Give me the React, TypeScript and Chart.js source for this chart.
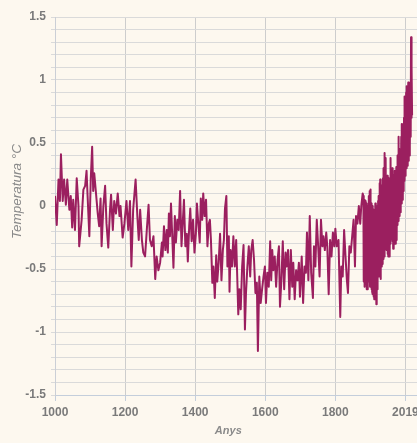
import React, { useEffect, useRef } from "react";
import { Chart, registerables } from "chart.js";

Chart.register(...registerables);

// Reconstructed annual anomalies (year, °C)
const reconYears = [
  1000, 1005, 1010, 1014, 1017, 1022, 1026, 1031, 1035, 1041, 1045, 1049, 1052, 1057, 1062, 1067, 1069, 1076, 1081, 1086,
  1090, 1093, 1098, 1102, 1106, 1109, 1112, 1117, 1122, 1126, 1130, 1133, 1138, 1143, 1147, 1152, 1157, 1160, 1165, 1169,
  1174, 1179, 1184, 1187, 1193, 1198, 1204, 1209, 1214, 1218, 1223, 1230, 1235, 1239, 1243, 1248, 1252, 1257, 1262, 1267,
  1271, 1276, 1281, 1286, 1290, 1295,
  1300, 1305, 1307, 1311, 1315, 1319, 1322, 1325, 1328, 1331, 1335, 1338, 1342, 1345, 1349, 1353, 1357, 1361, 1364, 1368,
  1372, 1376, 1379, 1383, 1386, 1390, 1394, 1398, 1402, 1405, 1409, 1413, 1416, 1420, 1423, 1427, 1431, 1435, 1439, 1442,
  1445, 1449, 1452, 1456, 1460, 1463, 1467, 1471, 1475, 1479, 1482, 1485, 1489, 1492, 1496, 1498, 1501, 1505, 1509, 1513,
  1517, 1520, 1523, 1526, 1530, 1534, 1538, 1542, 1545, 1549, 1553, 1557, 1560, 1564, 1568, 1572, 1576, 1579, 1583, 1587,
  1591, 1595, 1599, 1602, 1606, 1610,
  1614, 1617, 1620, 1623, 1627, 1631, 1635, 1639, 1642, 1646, 1650, 1654, 1658, 1661, 1665, 1669, 1673, 1677, 1680, 1684,
  1688, 1692, 1696, 1699, 1704, 1708, 1712, 1716, 1719, 1723, 1727, 1731, 1736, 1739, 1743, 1747, 1751, 1755, 1759, 1763,
  1766, 1770, 1774, 1777, 1781, 1785, 1789, 1793, 1797, 1800, 1804, 1809, 1814, 1817, 1821, 1825, 1829, 1833, 1836, 1840,
  1844, 1848, 1852, 1856, 1859, 1863, 1867, 1871, 1874, 1878,
];
const reconValues = [
  0.08, -0.15, 0.21, 0.04, 0.41, 0.04, 0.21, 0.01, 0.21, -0.03, 0.08, -0.17, 0.05, -0.19, 0.22, 0.0, -0.32, -0.11, 0.13, 0.16,
  0.28, 0.08, -0.24, 0.21, 0.47, 0.12, 0.26, 0.1, -0.06, -0.16, 0.06, -0.32, 0.0, 0.16, -0.14, -0.33, -0.03, 0.09, -0.19, 0.04,
  -0.06, 0.1, -0.08, 0.0, -0.25, -0.14, 0.04, -0.19, 0.04, -0.48, -0.03, 0.21, -0.08, -0.27, -0.03, -0.27, -0.37, -0.4, -0.19, 0.01,
  -0.27, -0.32, -0.24, -0.58, -0.4, -0.51,
  -0.45, -0.29, -0.4, -0.16, -0.35, -0.19, -0.37, -0.06, -0.24, 0.02, -0.27, -0.49, -0.08, -0.29, -0.11, -0.19, 0.12, -0.32, -0.16, 0.05,
  -0.32, -0.22, -0.44, -0.16, -0.02, -0.28, -0.11, -0.37, -0.22, 0.02, -0.14, -0.29, 0.06, -0.11, 0.1, -0.08, 0.05, -0.32, -0.14, -0.11,
  -0.27, -0.61, -0.48, -0.73, -0.39, -0.6, -0.45, -0.22, -0.59, -0.35, -0.27, -0.02, 0.08, -0.48, -0.24, -0.68, -0.35, -0.48, -0.24, -0.48,
  -0.27, -0.56, -0.86, -0.66, -0.82, -0.48, -0.31, -0.98, -0.69, -0.48, -0.32, -0.56, -0.35, -0.27, -0.43, -0.69, -0.61, -1.15, -0.56, -0.77,
  -0.66, -0.56, -0.48, -0.77, -0.53, -0.64,
  -0.28, -0.59, -0.35, -0.51, -0.4, -0.64, -0.43, -0.32, -0.8, -0.59, -0.28, -0.66, -0.37, -0.48, -0.35, -0.74, -0.35, -0.64, -0.45, -0.74,
  -0.51, -0.59, -0.45, -0.72, -0.4, -0.77, -0.48, -0.53, -0.21, -0.59, -0.08, -0.53, -0.73, -0.32, -0.48, -0.11, -0.32, -0.56, -0.11, -0.32,
  -0.24, -0.35, -0.21, -0.32, -0.7, -0.27, -0.4, -0.21, -0.32, -0.18, -0.32, -0.27, -0.88, -0.48, -0.56, -0.19, -0.4, -0.59, -0.69, -0.32,
  -0.37, -0.24, -0.11, -0.48, -0.08, -0.14, 0.0, -0.14, 0.0, 0.1,
];

// Instrumental period: one value per year from 1880, read as alternating highs and lows of the dense band
const bandStartYear = 1880;
const bandValues = [
  0.08, -0.6, 0.05, -0.64, 0.02, -0.62, 0.04, -0.58, -0.02, -0.66,
  0.02, -0.62, -0.05, -0.66, 0.0, -0.6, 0.08, -0.52, 0.12, -0.64,
  0.13, -0.58, 0.02, -0.66, -0.04, -0.68, 0.0, -0.7, -0.05, -0.72,
  -0.03, -0.74, -0.06, -0.72, 0.02, -0.65, -0.06, -0.78, -0.04, -0.66,
  0.0, -0.6, 0.04, -0.53, 0.08, -0.56, 0.18, -0.52, 0.21, -0.58,
  0.12, -0.46, 0.16, -0.48, 0.14, -0.46, 0.22, -0.42, 0.3, -0.4,
  0.42, -0.37, 0.36, -0.32, 0.38, -0.3, 0.22, -0.35, 0.24, -0.38,
  0.18, -0.4, 0.22, -0.32, 0.15, -0.4, 0.12, -0.3, 0.38, -0.24,
  0.28, -0.26, 0.3, -0.28, 0.2, -0.34, 0.24, -0.3, 0.22, -0.26,
  0.28, -0.3, 0.22, -0.2, 0.31, -0.27, 0.2, -0.15, 0.4, -0.12,
  0.55, -0.06, 0.42, -0.08, 0.45, -0.05, 0.4, 0.0, 0.55, 0.02,
  0.65, 0.05, 0.55, 0.06, 0.65, 0.12, 0.7, 0.2, 0.87, 0.24,
  0.8, 0.26, 0.9, 0.3, 0.95, 0.32, 0.88, 0.34, 0.98, 0.36,
  0.96, 0.4, 0.9, 0.47, 0.98, 0.55, 1.34, 0.7, 1.11, 0.72,
];

const xTickValues = [1000, 1200, 1400, 1600, 1800, 2000];
const xTickLabels = ["1000", "1200", "1400", "1600", "1800", "2019"];
const yLabelledTicks = [-1.5, -1, -0.5, 0, 0.5, 1, 1.5];
const yMin = -1.5;
const yMax = 1.5;
const yStep = 0.1;
const xMin = 1000;
const xMax = 2033;
const xTitle = "Anys";
const yTitle = "Temperatura °C";

const BG = "#fdf8ef";
const LINE = "#9b1f5f";
const TICK_COLOR = "#7a7a7a";
const TITLE_COLOR = "#8a8a8a";
const FONT = '"Liberation Sans", Arial, Helvetica, sans-serif';

export default function App() {
  const ref = useRef<HTMLCanvasElement>(null);

  useEffect(() => {
    document.body.style.margin = "0";
    document.body.style.background = BG;
    const canvas = ref.current;
    if (!canvas) return;

    const points: { x: number; y: number }[] = [];
    reconYears.forEach((yr, i) => points.push({ x: yr, y: reconValues[i] }));
    bandValues.forEach((v, i) => points.push({ x: bandStartYear + i, y: v }));

    const yTicks: number[] = [];
    const n = Math.round((yMax - yMin) / yStep);
    for (let k = 0; k <= n; k++) yTicks.push(Math.round((yMin + k * yStep) * 10) / 10);

    const bgPlugin = {
      id: "bg",
      beforeDraw(chart: any) {
        const c = chart.ctx;
        c.save();
        c.fillStyle = BG;
        c.fillRect(0, 0, chart.width, chart.height);
        c.restore();
      },
    };

    const titlePlugin = {
      id: "axisTitles",
      afterDraw(chart: any) {
        const ctx = chart.ctx;
        const a = chart.chartArea;
        ctx.save();
        ctx.fillStyle = TITLE_COLOR;
        ctx.textAlign = "center";
        ctx.textBaseline = "middle";
        ctx.font = `italic 13.5px ${FONT}`;
        ctx.translate(17.5, (a.top + a.bottom) / 2 - 14.5);
        ctx.rotate(-Math.PI / 2);
        ctx.fillText(yTitle, 0, 0);
        ctx.restore();
        ctx.save();
        ctx.fillStyle = TITLE_COLOR;
        ctx.textAlign = "center";
        ctx.textBaseline = "middle";
        ctx.font = `italic bold 11px ${FONT}`;
        ctx.fillText(xTitle, (a.left + a.right) / 2 - 7.7, a.bottom + 36);
        ctx.restore();
      },
    };

    const chart = new Chart(canvas, {
      type: "line",
      data: {
        datasets: [
          {
            data: points,
            borderColor: LINE,
            borderWidth: 2,
            borderJoinStyle: "round",
            pointRadius: 0,
            tension: 0,
            fill: false,
          },
        ],
      },
      options: {
        animation: false,
        responsive: false,
        devicePixelRatio: 1,
        parsing: false,
        layout: { padding: { top: 17, left: 0, right: 0, bottom: 0 } },
        plugins: { legend: { display: false }, tooltip: { enabled: false } },
        scales: {
          x: {
            type: "linear",
            min: xMin,
            max: xMax,
            afterBuildTicks: (s: any) => {
              s.ticks = xTickValues.map((v) => ({ value: v }));
            },
            afterFit: (s: any) => {
              s.height = 48;
              s.paddingLeft = 0;
              s.paddingRight = 0;
            },
            ticks: {
              autoSkip: false,
              maxRotation: 0,
              padding: 4,
              color: TICK_COLOR,
              font: { family: FONT, size: 12, weight: "bold" },
              callback: (v: any) => {
                const i = xTickValues.indexOf(Number(v));
                return i >= 0 ? xTickLabels[i] : "";
              },
            },
            grid: { color: "#cdcdcd", tickColor: "#c4cedb", tickLength: 6, lineWidth: 1 },
            border: { color: "#c4cedb" },
          },
          y: {
            type: "linear",
            min: yMin,
            max: yMax,
            afterBuildTicks: (s: any) => {
              s.ticks = yTicks.map((v) => ({ value: v }));
            },
            afterFit: (s: any) => {
              s.width = 55;
            },
            ticks: {
              autoSkip: false,
              padding: 5,
              color: TICK_COLOR,
              font: { family: FONT, size: 12, weight: "bold" },
              callback: (v: any) => {
                const val = Number(v);
                return yLabelledTicks.some((t) => Math.abs(t - val) < 1e-9) ? String(Math.round(val * 10) / 10) : "";
              },
            },
            grid: { color: "#dadada", tickLength: 4, lineWidth: 1 },
            border: { color: "#cbcfd6" },
          },
        },
      },
      plugins: [bgPlugin, titlePlugin],
    } as any);

    return () => chart.destroy();
  }, []);

  return (
    <div style={{ width: 417, height: 443, background: BG }}>
      <canvas ref={ref} width={417} height={443} style={{ display: "block" }} />
    </div>
  );
}
